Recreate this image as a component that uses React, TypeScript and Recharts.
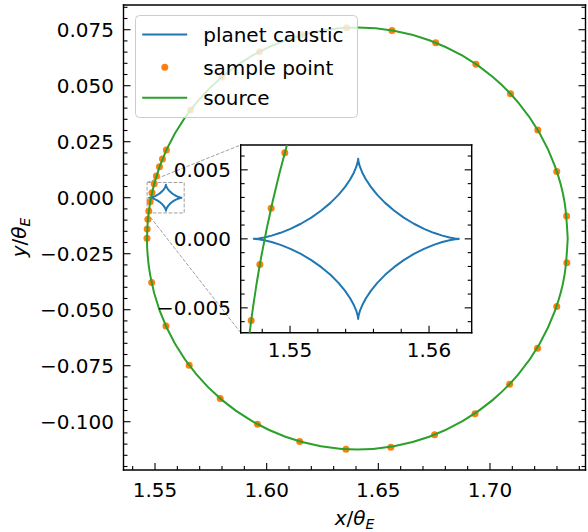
import React from 'react';
import {
  ScatterChart,
  Scatter,
  XAxis,
  YAxis,
  ReferenceArea,
  ReferenceLine,
  Legend,
  CartesianGrid,
} from 'recharts';

// ---------------- data ----------------
const causticX = [
  1.5622, 1.562117, 1.561872, 1.561479, 1.560958, 1.560334, 1.559641, 1.558912, 1.558181, 1.557481,
  1.556839, 1.556278, 1.555813, 1.555451, 1.555192, 1.555027, 1.554938, 1.554905, 1.5549,
  1.554895, 1.554861, 1.55477, 1.5546, 1.554334, 1.553962, 1.553485, 1.552908, 1.552248, 1.551529,
  1.550778, 1.550029, 1.549317, 1.548676, 1.548141, 1.547737, 1.547485, 1.5474,
  1.547485, 1.547737, 1.548141, 1.548676, 1.549317, 1.550029, 1.550778, 1.551529, 1.552248,
  1.552908, 1.553485, 1.553962, 1.554334, 1.5546, 1.55477, 1.554861, 1.554895, 1.5549,
  1.554905, 1.554938, 1.555027, 1.555192, 1.555451, 1.555813, 1.556278, 1.556839, 1.557481,
  1.558181, 1.558912, 1.559641, 1.560334, 1.560958, 1.561479, 1.561872, 1.562117, 1.5622,
];
const causticY = [
  0, 0.0000038, 0.0000303, 0.0001006, 0.000232, 0.0004378, 0.000725, 0.0010945, 0.0015405, 0.0020506,
  0.0026071, 0.0031879, 0.0037671, 0.0043177, 0.0048128, 0.0052271, 0.0055396, 0.005734, 0.0058,
  0.005734, 0.0055396, 0.0052271, 0.0048128, 0.0043177, 0.0037671, 0.0031879, 0.0026071, 0.0020506,
  0.0015405, 0.0010945, 0.000725, 0.0004378, 0.000232, 0.0001006, 0.0000303, 0.0000038, 0,
  -0.0000038, -0.0000303, -0.0001006, -0.000232, -0.0004378, -0.000725, -0.0010945, -0.0015405,
  -0.0020506, -0.0026071, -0.0031879, -0.0037671, -0.0043177, -0.0048128, -0.0052271, -0.0055396,
  -0.005734, -0.0058,
  -0.005734, -0.0055396, -0.0052271, -0.0048128, -0.0043177, -0.0037671, -0.0031879, -0.0026071,
  -0.0020506, -0.0015405, -0.0010945, -0.000725, -0.0004378, -0.000232, -0.0001006, -0.0000303,
  -0.0000038, 0,
];

const sampleX = [
  1.7343, 1.7299, 1.7214, 1.7092, 1.6937, 1.6757, 1.6561, 1.6358, 1.6157, 1.5968,
  1.5799, 1.5659, 1.555082, 1.553345, 1.552002, 1.550626, 1.549623, 1.54864, 1.547828,
  1.547204, 1.546793, 1.546494, 1.5464, 1.5485, 1.5549, 1.5653, 1.5792, 1.5959, 1.6148,
  1.6355, 1.6556, 1.6752, 1.6933, 1.7088, 1.7213, 1.7299, 1.7344,
];
const sampleY = [
  -0.0082, 0.0117, 0.0302, 0.0464, 0.0596, 0.0692, 0.0747, 0.0759, 0.0727, 0.0652,
  0.0539, 0.0391, 0.0213, 0.0173, 0.0138, 0.0097, 0.00623, 0.00222, -0.00186,
  -0.00592, -0.0096, -0.014, -0.0181, -0.0379, -0.0573, -0.0748, -0.0896, -0.1011, -0.1088,
  -0.1123, -0.1114, -0.1058, -0.0964, -0.0833, -0.0672, -0.0486, -0.029,
];

const sourceX = [
  1.7348, 1.733369, 1.729119, 1.72218, 1.712761, 1.701151, 1.6877, 1.672818, 1.656958, 1.6406,
  1.624242, 1.608382, 1.5935, 1.580049, 1.568439, 1.55902, 1.552081, 1.547831, 1.5464,
  1.547831, 1.552081, 1.55902, 1.568439, 1.580049, 1.5935, 1.608382, 1.624242, 1.6406,
  1.656958, 1.672818, 1.6877, 1.701151, 1.712761, 1.72218, 1.729119, 1.733369, 1.7348,
];
const sourceY = [
  -0.0182, -0.001842, 0.014018, 0.0289, 0.042351, 0.053961, 0.06338, 0.070319, 0.074569, 0.076,
  0.074569, 0.070319, 0.06338, 0.053961, 0.042351, 0.0289, 0.014018, -0.001842, -0.0182,
  -0.034558, -0.050418, -0.0653, -0.078751, -0.090361, -0.09978, -0.106719, -0.110969, -0.1124,
  -0.110969, -0.106719, -0.09978, -0.090361, -0.078751, -0.0653, -0.050418, -0.034558, -0.0182,
];

const legendNames = ['planet caustic', 'sample point', 'source'];

const mainXTicks = [1.55, 1.6, 1.65, 1.7];
const mainXMinor = [
  1.54, 1.56, 1.57, 1.58, 1.59, 1.61, 1.62, 1.63, 1.64, 1.66, 1.67, 1.68, 1.69, 1.71, 1.72, 1.73, 1.74,
];
const mainYTicks = [0.075, 0.05, 0.025, 0, -0.025, -0.05, -0.075, -0.1];
const mainYMinor = [
  0.085, 0.08, 0.07, 0.065, 0.06, 0.055, 0.045, 0.04, 0.035, 0.03, 0.02, 0.015, 0.01, 0.005,
  -0.005, -0.01, -0.015, -0.02, -0.03, -0.035, -0.04, -0.045, -0.055, -0.06, -0.065, -0.07,
  -0.08, -0.085, -0.09, -0.095, -0.105, -0.11, -0.115, -0.12,
];
const insetXTicks = [1.55, 1.56];
const insetXMinor = [1.548, 1.552, 1.554, 1.556, 1.558, 1.562];
const insetYTicks = [0.005, 0, -0.005];
const insetYMinor = [-0.006, -0.004, -0.003, -0.002, -0.001, 0.001, 0.002, 0.003, 0.004, 0.006];

const mainXDomain: [number, number] = [1.53589, 1.74277];
const mainYDomain: [number, number] = [-0.12156, 0.08603];
const insetXDomain: [number, number] = [1.54645, 1.56307];
const insetYDomain: [number, number] = [-0.0068, 0.0068];

// ---------------- style / layout ----------------
const W = 588;
const H = 532;
const FONT = '"DejaVu Sans", sans-serif';
const INK = '#000000';
const BLUE = '#1f77b4';
const ORANGE = '#ff7f0e';
const GREEN = '#2ca02c';
const GRAY = '#a0a0a0';
const FS = 20;
const MAJOR_LEN = 7;
const MINOR_LEN = 4;
const DOT_R = 3.5;

const MAIN = { left: 123.5, top: 5, right: 585.5, bottom: 470 };
const INSET = { left: 240.7, top: 145, right: 471.7, bottom: 332.7 };

const toPts = (xs: number[], ys: number[]) => xs.map((x, i) => ({ x, y: ys[i] }));
const causticData = toPts(causticX, causticY);
const sampleData = toPts(sampleX, sampleY);
const sourceData = toPts(sourceX, sourceY);

const fmtFixed = (d: number) => (v: number) => {
  const s = Math.abs(v).toFixed(d);
  return v < -1e-12 ? '\u2212' + s : s;
};

type Side = 'bottom' | 'top' | 'left' | 'right';
const makeTick =
  (side: Side, majors: number[], fmt: ((v: number) => string) | null, gap: number) =>
  (props: any) => {
    const { x, y, payload } = props;
    const v = Number(payload.value);
    const major = majors.some((m) => Math.abs(m - v) < 1e-9);
    const len = major ? MAJOR_LEN : MINOR_LEN;
    let x2 = x;
    let y2 = y;
    if (side === 'bottom') y2 = y - len;
    else if (side === 'top') y2 = y + len;
    else if (side === 'left') x2 = x + len;
    else x2 = x - len;
    return (
      <g>
        <line x1={x} y1={y} x2={x2} y2={y2} stroke={INK} strokeWidth={1.1} />
        {major && fmt && side === 'bottom' && (
          <text x={x} y={y + gap} textAnchor="middle" fontFamily={FONT} fontSize={FS} fill={INK}>
            {fmt(v)}
          </text>
        )}
        {major && fmt && side === 'left' && (
          <text x={x - gap} y={y + 7} textAnchor="end" fontFamily={FONT} fontSize={FS} fill={INK}>
            {fmt(v)}
          </text>
        )}
      </g>
    );
  };

const MathLabel = ({ v }: { v: string }) => (
  <>
    <tspan fontStyle="italic">{v}</tspan>
    <tspan>/</tspan>
    <tspan fontStyle="italic">θ</tspan>
    <tspan fontStyle="italic" fontSize={14} dy={4}>
      E
    </tspan>
  </>
);

const XLabelContent = (props: any) => {
  const vb = props && props.viewBox ? props.viewBox : { x: MAIN.left, y: MAIN.bottom, width: MAIN.right - MAIN.left };
  const cx = vb.x + vb.width / 2;
  return (
    <text x={cx} y={MAIN.bottom + 55} textAnchor="middle" fontFamily={FONT} fontSize={FS} fill={INK}>
      <MathLabel v="x" />
    </text>
  );
};

const YLabelContent = (props: any) => {
  const vb = props && props.viewBox ? props.viewBox : { x: MAIN.left, y: MAIN.top, height: MAIN.bottom - MAIN.top };
  const cy = vb.y + vb.height / 2;
  return (
    <text
      transform={`translate(26,${cy}) rotate(-90)`}
      textAnchor="middle"
      fontFamily={FONT}
      fontSize={FS}
      fill={INK}
    >
      <MathLabel v="y" />
    </text>
  );
};

const spine = { stroke: INK, strokeWidth: 1.4, strokeLinecap: 'square' as const };

const frame = (
  xDomain: [number, number],
  yDomain: [number, number],
  xMajor: number[],
  xMinor: number[],
  yMajor: number[],
  yMinor: number[],
  xFmt: (v: number) => string,
  yFmt: (v: number) => string,
  xGap: number,
  yGap: number,
  withLabels: boolean,
) => [
  <XAxis
    key="xb"
    xAxisId="x"
    type="number"
    dataKey="x"
    orientation="bottom"
    domain={xDomain}
    allowDataOverflow
    ticks={[...xMajor, ...xMinor]}
    interval={0}
    height={1}
    tickSize={0}
    tickMargin={0}
    tickLine={false}
    axisLine={spine}
    tick={makeTick('bottom', xMajor, xFmt, xGap)}
    label={withLabels ? { content: XLabelContent } : undefined}
  />,
  <XAxis
    key="xt"
    xAxisId="xt"
    type="number"
    orientation="top"
    domain={xDomain}
    allowDataOverflow
    ticks={[...xMajor, ...xMinor]}
    interval={0}
    height={1}
    tickSize={0}
    tickMargin={0}
    tickLine={false}
    axisLine={spine}
    tick={makeTick('top', xMajor, null, 0)}
  />,
  <YAxis
    key="yl"
    yAxisId="y"
    type="number"
    dataKey="y"
    orientation="left"
    domain={yDomain}
    allowDataOverflow
    ticks={[...yMajor, ...yMinor]}
    interval={0}
    width={1}
    tickSize={0}
    tickMargin={0}
    tickLine={false}
    axisLine={spine}
    tick={makeTick('left', yMajor, yFmt, yGap)}
    label={withLabels ? { content: YLabelContent } : undefined}
  />,
  <YAxis
    key="yr"
    yAxisId="yr"
    type="number"
    orientation="right"
    domain={yDomain}
    allowDataOverflow
    ticks={[...yMajor, ...yMinor]}
    interval={0}
    width={1}
    tickSize={0}
    tickMargin={0}
    tickLine={false}
    axisLine={spine}
    tick={makeTick('right', yMajor, null, 0)}
  />,
];

const EmptyShape = () => <g />;
const DotShape = (p: any) => <circle cx={p.cx} cy={p.cy} r={DOT_R} fill={ORANGE} />;

const series = (key: string) => [
  <Scatter
    key={key + 'c'}
    name={legendNames[0]}
    data={causticData}
    xAxisId="x"
    yAxisId="y"
    fill={BLUE}
    line={{ stroke: BLUE, strokeWidth: 2, strokeLinejoin: 'round' }}
    lineJointType="linear"
    shape={EmptyShape}
    isAnimationActive={false}
  />,
  <Scatter
    key={key + 'p'}
    name={legendNames[1]}
    data={sampleData}
    xAxisId="x"
    yAxisId="y"
    fill={ORANGE}
    shape={DotShape}
    isAnimationActive={false}
  />,
  <Scatter
    key={key + 's'}
    name={legendNames[2]}
    data={sourceData}
    xAxisId="x"
    yAxisId="y"
    fill={GREEN}
    line={{ stroke: GREEN, strokeWidth: 2 }}
    lineJointType="natural"
    shape={EmptyShape}
    isAnimationActive={false}
  />,
];

// inverse mapping: pixel in main chart -> main data coordinate (for the inset connector ends)
const mainXAt = (px: number) =>
  mainXDomain[0] + ((px - MAIN.left) / (MAIN.right - MAIN.left)) * (mainXDomain[1] - mainXDomain[0]);
const mainYAt = (py: number) =>
  mainYDomain[1] - ((py - MAIN.top) / (MAIN.bottom - MAIN.top)) * (mainYDomain[1] - mainYDomain[0]);

const LegendBox = () => {
  const rows = [19.5, 52.2, 82.8];
  const colors = [BLUE, ORANGE, GREEN];
  return (
    <svg width={224} height={104} style={{ display: 'block', overflow: 'visible' }}>
      <rect x={0.5} y={0.5} width={222} height={102} rx={4} fill="#ffffff" fillOpacity={0.8} stroke="#cccccc" strokeWidth={1} />
      {legendNames.map((name, i) => (
        <g key={name}>
          {i === 1 ? (
            <circle cx={29.8} cy={rows[i]} r={DOT_R} fill={colors[i]} />
          ) : (
            <line x1={7.2} x2={52.2} y1={rows[i]} y2={rows[i]} stroke={colors[i]} strokeWidth={2} />
          )}
          <text x={68.2} y={rows[i] + 7.3} fontFamily={FONT} fontSize={FS} fill={INK}>
            {name}
          </text>
        </g>
      ))}
    </svg>
  );
};

export default function App() {
  const xFmt2 = fmtFixed(2);
  const yFmt3 = fmtFixed(3);
  return (
    <div style={{ position: 'absolute', left: 0, top: 0, width: W, height: H, background: '#ffffff' }}>
      <div style={{ position: 'absolute', left: 0, top: 0 }}>
        <ScatterChart
          width={W}
          height={H}
          margin={{ top: MAIN.top - 1, left: MAIN.left - 1, right: W - MAIN.right - 1, bottom: H - MAIN.bottom - 1 }}
        >
          {frame(mainXDomain, mainYDomain, mainXTicks, mainXMinor, mainYTicks, mainYMinor, xFmt2, yFmt3, 27, 9.5, true)}
          {series('m')}
          <ReferenceArea
            xAxisId="x"
            yAxisId="y"
            x1={insetXDomain[0]}
            x2={insetXDomain[1]}
            y1={insetYDomain[0]}
            y2={insetYDomain[1]}
            fill="none"
            fillOpacity={0}
            stroke={GRAY}
            strokeWidth={1}
            strokeDasharray="3.7 1.6"
            ifOverflow="visible"
          />
          <ReferenceLine
            xAxisId="x"
            yAxisId="y"
            segment={[
              { x: insetXDomain[0], y: insetYDomain[1] },
              { x: mainXAt(INSET.left), y: mainYAt(INSET.top) },
            ]}
            stroke={GRAY}
            strokeWidth={1}
            strokeDasharray="3.7 1.6"
            ifOverflow="visible"
          />
          <ReferenceLine
            xAxisId="x"
            yAxisId="y"
            segment={[
              { x: insetXDomain[0], y: insetYDomain[0] },
              { x: mainXAt(INSET.left), y: mainYAt(INSET.bottom) },
            ]}
            stroke={GRAY}
            strokeWidth={1}
            strokeDasharray="3.7 1.6"
            ifOverflow="visible"
          />
          <Legend
            layout="vertical"
            align="center"
            verticalAlign="middle"
            wrapperStyle={{ left: 134.5, top: 14.5, width: 224, height: 104 }}
            content={() => <LegendBox />}
          />
        </ScatterChart>
      </div>
      <div style={{ position: 'absolute', left: 0, top: 0 }}>
        <ScatterChart
          width={W}
          height={H}
          margin={{ top: INSET.top - 1, left: INSET.left - 1, right: W - INSET.right - 1, bottom: H - INSET.bottom - 1 }}
        >
          <CartesianGrid xAxisId="x" yAxisId="y" horizontal={false} vertical={false} fill="#ffffff" fillOpacity={1} stroke="none" />
          {frame(insetXDomain, insetYDomain, insetXTicks, insetXMinor, insetYTicks, insetYMinor, xFmt2, yFmt3, 24, 9.7, false)}
          {series('i')}
        </ScatterChart>
      </div>
    </div>
  );
}
